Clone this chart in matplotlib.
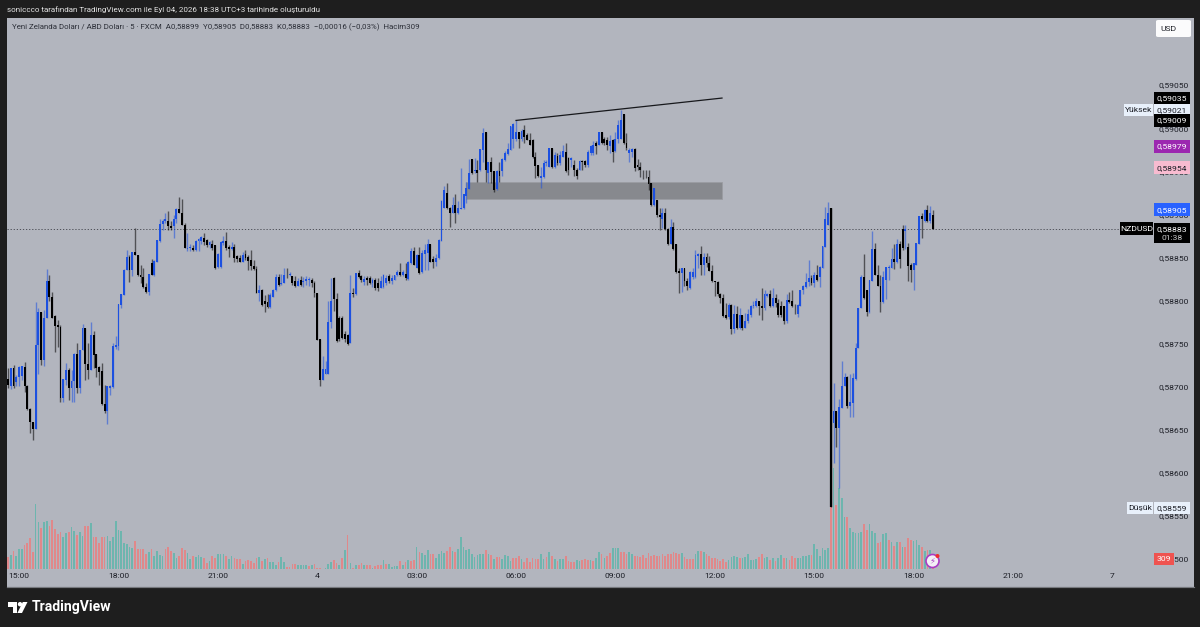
import numpy as np
import matplotlib
matplotlib.use("Agg")
import matplotlib.pyplot as plt
from matplotlib.patches import Rectangle, Polygon, Ellipse, FancyBboxPatch

plt.rcParams['font.family'] = ['Roboto', 'DejaVu Sans']

# prices are in 1/100000
opens = [
    58709,58700,58721,58705,58711,58712,58723,58700,58674,58659,
    58651,58748,58786,58731,58779,58822,58804,58782,58771,58769,
    58686,58707,58719,58698,58706,58738,58698,58742,58768,58726,
    58719,58760,58738,58722,58718,58680,58671,58698,58699,58746,
    58747,58795,58806,58835,58850,58835,58856,58853,58830,58827,
    58815,58810,58843,58830,58845,58869,58889,58892,58892,58886,
    58886,58895,58906,58901,58888,58860,58861,58861,58859,58869,
    58869,58873,58870,58864,58866,58864,58839,58839,58867,58869,
    58862,58860,58862,58852,58849,58845,58854,58850,58847,58840,
    58836,58809,58812,58799,58798,58792,58804,58812,58827,58819,
    58820,58830,58829,58828,58822,58817,58824,58821,58822,58824,
    58824,58820,58808,58755,58708,58715,58715,58775,58826,58802,
    58779,58779,58761,58760,58750,58809,58807,58832,58828,58821,
    58826,58826,58820,58824,58820,58814,58815,58820,58828,58822,
    58824,58829,58833,58830,58831,58825,58843,58857,58838,58853,
    58833,58854,58855,58866,58848,58845,58849,58869,58907,58925,
    58907,58901,58911,58901,58906,58907,58921,58929,58964,58950,
    58952,58951,58975,58995,58948,58961,58950,58929,58950,58950,
    58963,58970,58975,58988,58987,58995,58987,58998,58992,58986,
    58986,58966,58957,58942,58943,58959,58955,58977,58955,58968,
    58959,58967,58972,58965,58963,58957,58952,58952,58962,58962,
    58957,58971,58971,58983,58981,58995,58987,58986,58979,58986,
    58973,58987,58987,59016,58983,58971,58972,58976,58957,58955,
    58952,58952,58943,58936,58911,58917,58899,58894,58901,58883,
    58865,58885,58865,58834,58832,58837,58822,58814,58827,58827,
    58852,58854,58841,58850,58843,58834,58822,58821,58807,58803,
    58783,58781,58795,58767,58784,58768,58783,58768,58776,58783,
    58793,58793,58799,58794,58791,58805,58807,58793,58803,58797,
    58793,58793,58776,58800,58799,58794,58784,58794,58812,58816,
    58821,58826,58820,58829,58827,58838,58862,58888,58907,58657,
    58671,58652,58675,58700,58711,58677,58681,58709,58745,58791,
    58827,58812,58786,58823,58860,58830,58817,58798,58824,58838,
    58838,58848,58844,58866,58883,58881,58862,58841,58835,58841,
    58866,58898,58892,58905,58892,58899,
]
highs = [
    58721,58721,58725,58713,58724,58724,58728,58702,58675,58659,
    58798,58791,58787,58789,58836,58830,58810,58783,58777,58771,
    58709,58727,58721,58719,58739,58751,58742,58773,58768,58750,
    58775,58764,58738,58724,58727,58702,58700,58702,58750,58759,
    58796,58807,58836,58859,58853,58856,58884,58853,58841,58837,
    58820,58831,58848,58847,58870,58894,58895,58901,58904,58892,
    58899,58907,58920,58918,58890,58878,58866,58864,58870,58872,
    58875,58878,58871,58869,58870,58864,58855,58869,58875,58879,
    58864,58868,58866,58853,58853,58856,58859,58853,58859,58847,
    58840,58818,58813,58806,58807,58808,58813,58831,58831,58831,
    58838,58837,58833,58828,58828,58826,58828,58827,58828,58827,
    58826,58822,58809,58755,58735,58730,58799,58826,58827,58808,
    58782,58782,58764,58761,58830,58814,58832,58835,58830,58828,
    58828,58828,58826,58826,58826,58828,58831,58830,58831,58830,
    58830,58835,58843,58835,58843,58846,58861,58862,58854,58862,
    58859,58866,58871,58866,58852,58854,58871,58916,58933,58936,
    58909,58920,58924,58915,58954,58923,58937,58964,58964,58965,
    58963,58976,59000,58995,58961,58966,58950,58951,58961,58965,
    58973,58983,59002,59006,59010,58995,58999,59004,58994,58994,
    58987,58972,58957,58955,58963,58963,58977,58977,58972,58971,
    58973,58981,58983,58967,58967,58963,58954,58963,58963,58963,
    58975,58981,58985,58985,58996,58996,58990,58990,58992,58988,
    58995,59010,59021,59017,58994,58977,58977,58977,58964,58961,
    58952,58952,58952,58936,58931,58917,58907,58907,58907,58884,
    58894,58891,58865,58838,58838,58838,58826,58834,58838,58859,
    58855,58863,58855,58855,58851,58841,58822,58822,58809,58807,
    58797,58797,58796,58795,58794,58791,58783,58785,58790,58795,
    58799,58803,58799,58814,58812,58808,58812,58814,58807,58801,
    58799,58794,58807,58810,58812,58796,58796,58812,58818,58832,
    58847,58830,58833,58841,58840,58863,58908,58914,58907,58704,
    58671,58685,58730,58716,58712,58715,58716,58751,58791,58830,
    58854,58812,58824,58881,58867,58841,58829,58834,58839,58841,
    58861,58865,58871,58869,58887,58887,58867,58843,58843,58867,
    58898,58901,58906,58911,58910,58905,
]
lows = [
    58698,58697,58698,58700,58700,58708,58694,58673,58646,58638,
    58651,58714,58725,58724,58779,58799,58779,58740,58746,58682,
    58682,58702,58684,58682,58682,58692,58692,58742,58707,58709,
    58719,58721,58711,58702,58678,58669,58656,58690,58698,58744,
    58742,58791,58806,58835,58821,58828,58853,58828,58820,58814,
    58808,58806,58830,58828,58845,58868,58882,58890,58882,58882,
    58873,58890,58901,58888,58861,58857,58857,58857,58857,58857,
    58866,58864,58862,58861,58859,58836,58838,58838,58864,58859,
    58850,58859,58844,58845,58844,58844,58847,58835,58835,58835,
    58808,58799,58793,58787,58791,58791,58804,58811,58817,58818,
    58820,58826,58828,58818,58816,58817,58817,58815,58818,58817,
    58815,58804,58754,58700,58708,58714,58715,58768,58788,58752,
    58753,58755,58752,58748,58750,58804,58806,58826,58821,58818,
    58818,58819,58815,58812,58811,58814,58814,58818,58820,58819,
    58824,58828,58828,58828,58824,58824,58842,58841,58838,58831,
    58832,58835,58835,58844,58838,58840,58848,58869,58907,58906,
    58885,58901,58890,58900,58906,58906,58913,58929,58947,58948,
    58938,58950,58961,58937,58936,58936,58926,58928,58938,58944,
    58962,58969,58975,58977,58985,58977,58985,58983,58986,58980,
    58965,58942,58943,58930,58942,58956,58955,58954,58954,58957,
    58957,58966,58949,58946,58955,58944,58941,58951,58951,58955,
    58955,58969,58969,58970,58981,58982,58981,58975,58971,58961,
    58972,58983,58987,58982,58975,58961,58967,58950,58952,58943,
    58941,58942,58928,58910,58910,58897,58882,58884,58882,58864,
    58865,58859,58832,58808,58810,58817,58812,58813,58825,58826,
    58838,58829,58829,58839,58834,58821,58805,58805,58797,58781,
    58778,58778,58761,58762,58767,58767,58766,58768,58774,58781,
    58791,58792,58783,58777,58789,58804,58792,58792,58792,58781,
    58781,58773,58774,58797,58792,58784,58781,58793,58807,58814,
    58817,58818,58816,58823,58816,58838,58862,58888,58560,58611,
    58630,58582,58675,58700,58675,58665,58665,58708,58745,58791,
    58801,58782,58785,58823,58829,58817,58786,58797,58801,58824,
    58838,58836,58843,58838,58859,58860,58822,58821,58812,58841,
    58866,58872,58891,58891,58890,58883,
]
closes = [
    58702,58721,58700,58711,58723,58724,58700,58674,58659,58651,
    58748,58786,58731,58779,58822,58804,58780,58770,58769,58686,
    58709,58719,58698,58706,58738,58698,58742,58768,58726,58719,
    58760,58737,58721,58717,58680,58671,58700,58700,58747,58748,
    58796,58807,58835,58850,58835,58856,58853,58830,58827,58815,
    58810,58831,58830,58846,58870,58889,58892,58895,58886,58884,
    58895,58906,58901,58888,58861,58861,58862,58858,58869,58871,
    58874,58868,58864,58868,58861,58838,58854,58868,58869,58861,
    58860,58862,58849,58848,58845,58853,58849,58846,58840,58836,
    58809,58812,58795,58796,58792,58806,58812,58827,58818,58820,
    58830,58829,58831,58820,58817,58822,58818,58823,58825,58825,
    58820,58808,58754,58708,58720,58720,58775,58799,58801,58753,
    58755,58756,58755,58749,58808,58807,58832,58827,58824,58825,
    58824,58820,58824,58814,58814,58822,58830,58826,58823,58826,
    58830,58833,58830,58833,58826,58845,58857,58841,58853,58832,
    58855,58859,58866,58845,58845,58849,58870,58915,58928,58907,
    58901,58911,58901,58907,58907,58923,58930,58948,58948,58952,
    58948,58976,58994,58951,58961,58949,58928,58950,58944,58964,
    58971,58976,59002,59005,58996,58988,58997,58990,58986,58981,
    58966,58956,58944,58944,58959,58961,58977,58955,58969,58959,
    58969,58973,58950,58951,58965,58952,58945,58962,58961,58957,
    58972,58979,58981,58979,58995,58983,58983,58981,58985,58972,
    58988,59004,59010,58983,58977,58975,58976,58954,58955,58952,
    58951,58951,58935,58911,58930,58899,58897,58901,58883,58865,
    58885,58860,58833,58832,58837,58822,58817,58833,58833,58853,
    58854,58841,58850,58843,58834,58822,58821,58807,58803,58782,
    58779,58795,58767,58784,58768,58783,58768,58776,58784,58794,
    58795,58799,58793,58791,58807,58807,58793,58803,58797,58783,
    58783,58776,58800,58798,58794,58793,58795,58812,58817,58821,
    58826,58820,58830,58824,58839,58863,58895,58901,58657,58671,
    58652,58676,58701,58711,58677,58682,58710,58745,58791,58827,
    58803,58786,58824,58860,58830,58817,58798,58827,58839,58839,
    58848,58844,58866,58848,58861,58883,58840,58835,58843,58867,
    58898,58895,58905,58892,58901,58883,
]
volumes = [
    380,430,560,400,620,620,730,800,930,530,
    1960,1430,1250,1410,1450,1310,1470,1200,1050,1130,
    980,1100,1110,1260,1150,1030,1110,1000,1310,1310,
    1390,960,980,780,960,960,1000,850,980,1450,
    1180,1150,800,750,660,640,860,600,600,600,
    460,520,620,410,550,430,410,600,680,560,
    480,330,410,630,580,500,310,410,380,430,
    380,350,180,250,410,340,450,450,450,410,
    310,410,340,310,310,160,260,290,250,200,
    340,370,260,300,350,210,210,120,220,370,
    220,60,80,170,170,130,130,130,130,110,
    120,160,30,30,10,30,160,220,280,200,
    120,350,580,1030,200,40,130,130,190,120,
    120,120,50,110,120,140,290,170,170,60,
    90,90,260,140,220,270,250,270,680,530,
    500,430,580,460,460,340,460,550,480,550,
    670,550,510,610,980,680,580,600,450,380,
    430,450,460,570,460,420,310,380,360,300,
    420,390,260,330,330,400,310,230,340,220,
    330,310,310,450,310,360,520,390,310,250,
    310,300,400,240,230,230,290,240,280,300,
    290,280,260,340,520,460,340,410,480,650,
    640,630,510,510,460,510,460,390,400,380,
    430,340,480,410,430,390,410,450,390,460,
    470,520,480,460,490,380,320,300,310,460,
    540,550,520,450,410,340,330,300,260,300,
    210,290,370,390,360,330,350,380,450,290,
    280,300,360,460,350,370,280,350,250,330,
    430,340,330,280,410,330,350,350,400,410,
    430,420,760,610,410,650,580,630,1880,3030,
    1920,2430,2130,1560,1580,1230,1130,1100,1100,1130,
    1350,1180,1350,1160,1100,780,830,1050,1080,880,
    830,700,830,830,660,660,950,880,860,880,
    730,660,560,570,570,309,
]
volume_sides = (
    "rtrtttrrrr" "ttrttrrrrr" "ttrttrttrr" "trrrrrtttt" "ttttttrrrr"
    "rtrttttrrr" "ttrrrttrtt" "trrtrrtttr" "ttrrrtrrrr" "rtrtrtttrt"
    "trrrrttttr" "trrrttttrr" "trtrtrtrrt" "rrtrrrtrtt" "ttrtrtrrtr"
    "tttrrttttr" "rtrttttttt" "tttrtrtrrt" "tttrrrtrrr" "rrrttrtrtr"
    "ttrrrrttrr" "rtrttrtrrt" "ttrrrttrrr" "rrrrrrrrrr" "rrrrtrrrrt"
    "trtrrrrrrr" "rttttrtttt" "ttrrttrtrt" "trtrrrtttt" "trttttttrt"
    "rtttrttttt" "rrtttrrttr" "trtrtrrrtt" "trtrtr"
)

time_ticks = [4, 40, 76, 112, 148, 184, 220, 256, 292, 328, 364, 400]
time_labels = ["15:00", "18:00", "21:00", "4", "03:00", "06:00", "09:00",
               "12:00", "15:00", "18:00", "21:00", "7"]
price_ticks = [0.59050, 0.59000, 0.58950, 0.58900, 0.58850, 0.58800,
               0.58750, 0.58700, 0.58650, 0.58600, 0.58550, 0.58500]
price_labels = ["0,59050", "0,59000", "0,58950", "0,58900", "0,58850", "0,58800",
                "0,58750", "0,58700", "0,58650", "0,58600", "0,58550", "0,58500"]

last_price = 0.58883
zone_top, zone_bottom = 0.58937, 0.58918
zone_start, zone_end = 166, 258.6
line_start, line_end = (184, 0.59009), (258.6, 0.59035)

BG = "#1e1e1e"
PANEL = "#b2b5be"
UP = "#1c50e0"
DOWN = "#000000"
INK = "#1c1e26"
W, H = 1200, 627
FS = 6.1


def fx(px):
    return px / W


def fy(py):
    return 1 - py / H


o = np.array(opens) / 1e5
h = np.array(highs) / 1e5
l = np.array(lows) / 1e5
c = np.array(closes) / 1e5
idx = np.arange(len(o))
cols = [UP if a >= b else DOWN for a, b in zip(c, o)]

fig = plt.figure(figsize=(12, 6.27), dpi=100, facecolor=BG)
ax_vol = fig.add_axes([fx(7), fy(587), 1187 / W, 569 / H], facecolor=PANEL)
ax = ax_vol.twinx()
ax.set_zorder(ax_vol.get_zorder() + 1)
ax.patch.set_visible(False)

ax.set_xlim(-0.362, 429.55)
ax.set_ylim(0.58467, 0.59128)
ax_vol.set_ylim(-531, 16539)

# volume
vol_cols = ["#e0888a" if s == "r" else "#6db5ae" for s in volume_sides]
ax_vol.bar(idx, volumes, width=0.62, color=vol_cols, linewidth=0)
ax_vol.set_yticks([])

# zone and trend line
ax.add_patch(Rectangle((zone_start, zone_bottom), zone_end - zone_start, zone_top - zone_bottom,
                       facecolor="#87898e", edgecolor="#9a9ca2", linewidth=0.6, zorder=1))
ax.plot([line_start[0], line_end[0]], [line_start[1], line_end[1]], color="#17181c", lw=0.9, zorder=4)
ax.plot([-0.362, 403], [last_price, last_price], color="#2a2c34", lw=0.6, alpha=0.85,
        ls=(0, (1.5, 2.2)), zorder=2)

# candles
ax.vlines(idx, l, h, colors=cols, linewidth=1.0, alpha=0.55, zorder=3)
ax.bar(idx, np.abs(c - o), bottom=np.minimum(o, c), width=0.68, color=cols, linewidth=0, zorder=3.5)
ax.vlines([298], [l[298]], [h[298]], colors=DOWN, linewidth=1.6, zorder=3.6)

# axes text
ax_vol.set_xticks(time_ticks)
ax_vol.set_xticklabels(time_labels, fontsize=FS, color=INK)
ax_vol.tick_params(axis="x", length=0, direction="in", pad=-10)
ax_vol.set_xlim(-0.362, 429.55)
ax.set_yticks(price_ticks)
ax.set_yticklabels(price_labels, fontsize=FS, color=INK)
ax.tick_params(axis="y", length=0, direction="in", pad=-25.5)
for a in (ax, ax_vol):
    for name, sp in a.spines.items():
        sp.set_visible(name == "bottom")
        sp.set_color("#77797e")
        sp.set_linewidth(0.8)

# price tags on the right
ytr = ax.get_yaxis_transform()


def tag(price, text, face, color, x0=1154, x1=1190, ph=13):
    h_p = ph * 1.1628 / 1e5
    ax.add_patch(Rectangle(((x0 - 7) / 1187, price - h_p / 2), (x1 - x0) / 1187, h_p,
                           transform=ytr, facecolor=face, edgecolor="none", zorder=6, clip_on=False))
    ax.text(((x0 + x1) / 2 - 7) / 1187, price - 0.1 / 1e5, text, transform=ytr, ha="center", va="center",
            fontsize=FS, color=color, zorder=7)


tag(0.59035, "0,59035", "#000000", "white")
tag(0.59021, "0,59021", "#e8f0fb", INK, ph=12)
tag(0.59021, "Yüksek", "#e8f0fb", INK, x0=1124, x1=1153, ph=12)
tag(0.59009, "0,59009", "#000000", "white")
tag(0.58979, "0,58979", "#9c27b0", "white")
tag(0.58954, "0,58954", "#f8bbd0", INK)
tag(0.58905, "0,58905", "#2962ff", "white")
tag(0.58883, "NZDUSD", "#000000", "white", x0=1120, x1=1153)
tag(0.58559, "0,58559", "#e8f0fb", INK, ph=12)
tag(0.58559, "Düşük", "#e8f0fb", INK, x0=1127, x1=1153, ph=12)

# last price box, two rows
ax.add_patch(Rectangle(((1154 - 7) / 1187, 0.58883 - 16.2 / 1e5), 36 / 1187, 23.3 / 1e5,
                       transform=ytr, facecolor="#000000", edgecolor="none", zorder=6))
ax.text((1172 - 7) / 1187, 0.58883, "0,58883", transform=ytr, ha="center", va="center",
        fontsize=FS, color="white", zorder=7)
ax.text((1172 - 7) / 1187, 0.58883 - 10 / 1e5, "01:38", transform=ytr, ha="center", va="center",
        fontsize=FS, color="#c8c8c8", zorder=7)

# volume tag
fig.patches.append(Rectangle((fx(1154), fy(565)), 20 / W, 12 / H, transform=fig.transFigure,
                             facecolor="#ef5350", edgecolor="none", zorder=8))
fig.text(fx(1164), fy(559.3), "309", fontsize=FS, color="white", ha="center", va="center", zorder=9)

# header and legend
fig.text(fx(7), fy(9.5), "soniccco tarafından TradingView.com ile Eyl 04, 2026 18:38 UTC+3 tarihinde oluşturuldu",
         fontsize=5.75, color="#e4e4e4", ha="left", va="center")
fig.text(fx(12), fy(27.5),
         "Yeni Zelanda Doları / ABD Doları · 5 · FXCM  A0,58899  Y0,58905  D0,58883  K0,58883  "
         "−0,00016 (−0,03%)  Hacim309",
         fontsize=5.7, color="#2c2f38", ha="left", va="center", zorder=9)

# currency button
fig.patches.append(FancyBboxPatch((fx(1156), fy(37)), 35 / W, 17 / H, transform=fig.transFigure,
                                  boxstyle="round,pad=0,rounding_size=0.002", facecolor="#fbfbfc",
                                  edgecolor="none", zorder=8))
fig.text(fx(1168), fy(29), "USD", fontsize=6.1, color=INK, ha="center", va="center", zorder=9)

# news icon by the last volume bar
fig.patches.append(Ellipse((fx(932.5), fy(561)), 13 / W, 13 / H, transform=fig.transFigure, facecolor="#f3f0f6",
                           edgecolor="#a93cc4", linewidth=1.2, zorder=8))
fig.text(fx(932.5), fy(561), "\u26a1", fontsize=6, color="#a93cc4", ha="center", va="center", zorder=9,
         family="DejaVu Sans")
fig.patches.append(Ellipse((fx(937.5), fy(556)), 4 / W, 4 / H, transform=fig.transFigure, facecolor="#ef2d2d",
                           edgecolor="none", zorder=10))

# TradingView logo
logo = [
    [(8, 602), (17, 602), (17, 613), (12.5, 613), (12.5, 606.5), (8, 606.5)],
    [(22.8, 602), (27.5, 602), (22, 613), (17.4, 613)],
]
for pts in logo:
    fig.patches.append(Polygon([(fx(a), fy(b)) for a, b in pts], transform=fig.transFigure,
                               facecolor="white", edgecolor="none"))
fig.patches.append(Ellipse((fx(20), fy(604.2)), 4.4 / W, 4.4 / H, transform=fig.transFigure, facecolor="white",
                           edgecolor="none"))
fig.text(fx(32), fy(607), "TradingView", fontsize=10.1, color="white", weight="semibold", ha="left", va="center")

fig.savefig("out.png", dpi=100, facecolor=BG)
